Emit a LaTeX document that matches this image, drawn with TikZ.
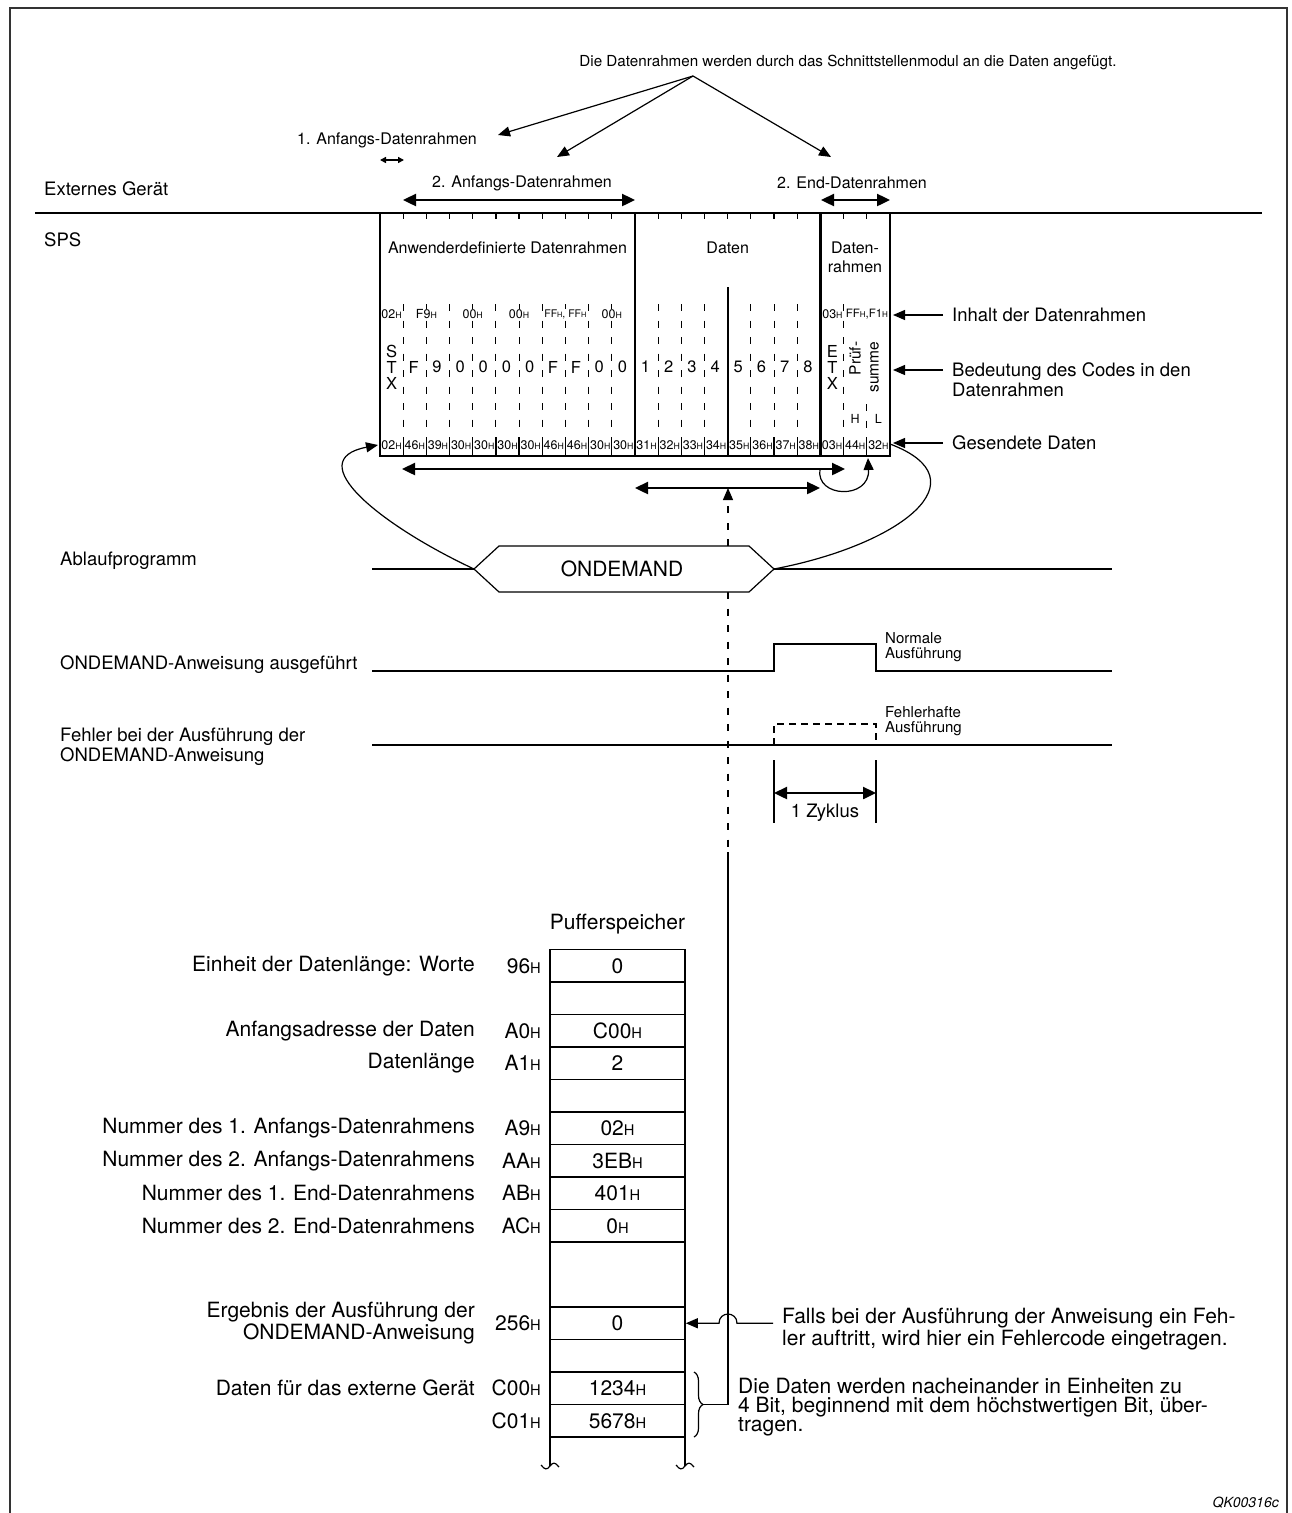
\documentclass[tikz,border=0pt]{standalone}
\usepackage{fontspec}
\setmainfont{TeX Gyre Heros}
\usetikzlibrary{arrows.meta,decorations.pathreplacing}

% hex value with the small H suffix
\newcommand{\hx}[1]{#1\scalebox{0.7}{H}}

\begin{document}
\begin{tikzpicture}[x=1pt,y=-1pt,
  every node/.style={inner sep=0pt},
  thinln/.style={line width=1.2pt},
  boldln/.style={line width=2.4pt},
  colsep/.style={line width=1.1pt,dash pattern=on 7pt off 9.5pt},
  tip/.style={-{Triangle[length=12pt,width=10pt]}},
  both/.style={boldln,{Triangle[length=13pt,width=12pt]}-{Triangle[length=13pt,width=12pt]}},
  ftop/.style={font=\fontsize{15.2}{17}\selectfont},
  flbl/.style={font=\fontsize{16}{17}\selectfont},
  fside/.style={font=\fontsize{18.5}{20}\selectfont},
  fcell/.style={font=\fontsize{16.5}{16}\selectfont},
  fcode/.style={font=\fontsize{12.5}{12}\selectfont},
  fsmall/.style={font=\fontsize{15}{15}\selectfont},
  fmem/.style={font=\fontsize{21}{22.5}\selectfont},
  cell/.style={draw,line width=1.6pt,minimum width=135pt,minimum height=32.5pt,fmem},
]
\useasboundingbox (0,0) rectangle (1292,1513);

% outer frame, open at the bottom
\draw[line width=1.3pt,black!80] (10,1513) -- (10,8) -- (1287,8) -- (1287,1513);

% --- frame layout on the line ---
\node[ftop] (note) at (848,62) {Die Datenrahmen werden durch das Schnittstellenmodul an die Daten angefügt.};
\coordinate (apex) at (693,76);
\node[flbl] (a1) at (387,140) {1. Anfangs-Datenrahmen};
\node[flbl] (a2) at (522,183) {2. Anfangs-Datenrahmen};
\node[flbl] (e2) at (852,183) {2. End-Datenrahmen};
\coordinate (a1tip) at (498,135);
\coordinate (a2tip) at (557,157);
\coordinate (e2tip) at (831,157);
\draw[thinln,tip] (apex) -- (a1tip);
\draw[thinln,tip] (apex) -- (a2tip);
\draw[thinln,tip] (apex) -- (e2tip);
\draw[line width=1.5pt,{Triangle[length=6pt,width=6pt]}-{Triangle[length=6pt,width=6pt]}] (380,160) -- (404,160);
\draw[both] (403,200) -- (635,200);
\draw[both] (821,200) -- (890,200);

\draw[boldln] (35,213) -- (1262,213);
\node[fside,anchor=west] (ext) at (44,189) {Externes Gerät};
\node[fside,anchor=west] (sps) at (44,240) {SPS};

% frame box
\draw[boldln] (380,213) -- (380,456) -- (890,456) -- (890,213);
\draw[boldln] (635,213) -- (635,456);
\draw[boldln] (820.4,213) -- (820.4,456);
\draw[line width=2pt] (727.7,287) -- (727.7,456);
\node[font=\fontsize{16}{16}\selectfont] (udef) at (507.5,248) {Anwenderdefinierte Datenrahmen};
\node[font=\fontsize{16}{16}\selectfont] (dat) at (727.7,248) {Daten};
\node[align=center,font=\fontsize{16}{19}\selectfont] (endr) at (855,257) {Daten-\\rahmen};

% column ticks and separators
\foreach \k in {1,...,21}{
  \pgfmathsetmacro\xk{380+\k*23.18}
  \ifnum\k=11\relax\else\ifnum\k=19\relax\else
    \draw[thinln] (\xk,213) -- (\xk,219);
    \draw[thinln] (\xk,437) -- (\xk,456);
  \fi\fi
}
\foreach \k in {1,...,10,12,13,14,16,17,18,20}{
  \pgfmathsetmacro\xk{380+\k*23.18}
  \draw[colsep] (\xk,304) -- (\xk,436);
}
\draw[colsep] ({380+21*23.18},404) -- ({380+21*23.18},436);

% frame contents
\node[fcode,fill=white] (t0) at (391.6,314) {\hx{02}};
\node[fcode,fill=white] (t1) at (426.4,314) {\hx{F9}};
\node[fcode,fill=white] (t2) at (472.7,314) {\hx{00}};
\node[fcode,fill=white] (t3) at (519.1,314) {\hx{00}};
\node[fcode,fill=white,font=\fontsize{10.5}{10}\selectfont] (t4) at (565.4,314) {\hx{FF}, \hx{FF}};
\node[fcode,fill=white] (t5) at (611.8,314) {\hx{00}};
\node[fcode,fill=white] (t6) at (832.4,314) {\hx{03}};
\node[fcode,fill=white,font=\fontsize{11.5}{10}\selectfont] (t7) at (866.9,314) {\hx{FF},\hx{F1}};

\node[fcell,align=center] (stx) at (391.6,367) {S\\T\\X};
\foreach \v [count=\i from 1] in {F,9,0,0,0,0,F,F,0,0,1,2,3,4,5,6,7,8}
  \node[fcell] (m\i) at ({380+(\i+0.5)*23.18-1},367) {\v};
\node[fcell,align=center] (etx) at (832.4,367) {E\\T\\X};
\node[rotate=90,align=right,font=\fontsize{15.5}{18}\selectfont,fill=white] (chk) at (864,367) {Prüf-\\summe};
\node[fcode] (hi) at (855.2,419) {H};
\node[fcode] (lo) at (878.4,419) {L};

\foreach \v [count=\i from 0] in {02,46,39,30,30,30,30,46,46,30,30,31,32,33,34,35,36,37,38,03,44,32}
  \node[fcode] (s\i) at ({380+(\i+0.5)*23.18},445) {\hx{\v}};

% legend on the right
\node[fside,anchor=west] (inh) at (952,315) {Inhalt der Datenrahmen};
\node[fside,anchor=west,align=left] (bed) at (952,380) {Bedeutung des Codes in den\\Datenrahmen};
\node[fside,anchor=west] (ges) at (952,443) {Gesendete Daten};
\coordinate (r1) at (893,315);
\coordinate (r2) at (893,370);
\coordinate (r3) at (893,443);
\draw[thinln,tip] ([xshift=-9pt]inh.west) -- (r1);
\draw[thinln,tip] (943,370) -- (r2);
\draw[thinln,tip] ([xshift=-9pt]ges.west) -- (r3);

% transmitted ranges
\draw[both] (402,469) -- (845,469);
\draw[both] (635,488) -- (820,488);
\draw[thinln,tip] (820,469) .. controls (815,498) and (870,500) .. (868,458);

% --- timing ---
\coordinate (hexL) at (474,569);
\coordinate (hexR) at (774,569);
\coordinate (dn) at (728,488);
\coordinate (bt) at (728,1404);
\draw[colsep,line width=1.2pt,tip] (728,546) -- (dn);
\draw[colsep,line width=1.2pt] (728,592) -- (728,852);
\draw[thinln] (728,852) -- (bt);

\node[fside,anchor=west] (abl) at (60,561) {Ablaufprogramm};
\draw[thinln] (372,569) -- (hexL);
\draw[thinln] (hexR) -- (1112,569);
\draw[thinln,fill=white] (hexL) -- (499,546) -- (749,546) -- (hexR) -- (749,592) -- (499,592) -- cycle;
\node[fmem] (od) at (622,569) {ONDEMAND};
\draw[thinln,tip] (hexL) .. controls (380,525) and (300,460) .. (378,445);
\draw[thinln] (hexR) .. controls (900,545) and (985,480) .. (890,444);

\node[fside,anchor=west] (exe) at (60,665) {ONDEMAND-Anweisung ausgeführt};
\draw[thinln] (372,671) -- (774,671) -- (774,644) -- (876,644) -- (876,671) -- (1112,671);
\node[fsmall,anchor=west,align=left] (ok) at (885,647) {Normale\\Ausführung};

\node[fside,anchor=west,align=left] (err) at (60,747) {Fehler bei der Ausführung der\\ONDEMAND-Anweisung};
\draw[thinln] (372,745) -- (1112,745);
\draw[thinln,dash pattern=on 7pt off 5pt] (774,745) -- (774,724) -- (876,724) -- (876,745);
\node[fsmall,anchor=west,align=left] (nok) at (885,721) {Fehlerhafte\\Ausführung};

\draw[thinln] (774,760) -- (774,823);
\draw[thinln] (876,760) -- (876,823);
\draw[both] (774,793) -- (876,793);
\node[fside] (cyc) at (825,813) {1 Zyklus};

% --- buffer memory ---
\node[fmem] (puf) at (617.5,924) {Pufferspeicher};
\foreach \k/\adr/\val/\txt in {
  0/\hx{96}/0/{Einheit der Datenlänge: Worte},
  2/\hx{A0}/\hx{C00}/{Anfangsadresse der Daten},
  3/\hx{A1}/2/{Datenlänge},
  5/\hx{A9}/\hx{02}/{Nummer des 1. Anfangs-Datenrahmens},
  6/\hx{AA}/\hx{3EB}/{Nummer des 2. Anfangs-Datenrahmens},
  7/\hx{AB}/\hx{401}/{Nummer des 1. End-Datenrahmens},
  8/\hx{AC}/\hx{0}/{Nummer des 2. End-Datenrahmens},
  11/\hx{256}/0/{Ergebnis der Ausführung der\\ONDEMAND-Anweisung},
  13/\hx{C00}/\hx{1234}/{Daten für das externe Gerät},
  14/\hx{C01}/\hx{5678}/{}}{
  \node[cell] (w\k) at (617.5,{949.5+(\k+0.5)*32.5}) {\val};
  \node[fmem,anchor=east] (adr\k) at (541,{949.5+(\k+0.5)*32.5}) {\adr};
  \node[fmem,anchor=east,align=right] (txt\k) at (475,{949.5+(\k+0.5)*32.5}) {\txt};
}
\foreach \k in {1,4,12}
  \node[cell] (w\k) at (617.5,{949.5+(\k+0.5)*32.5}) {};
\node[cell,minimum height=65pt] (w9) at (617.5,1274.5) {};
% open end of the memory
\foreach \x in {550,685}{
  \draw[thinln] (\x,1437) -- (\x,1466);
  \draw[thinln] (\x-9,1465) .. controls (\x-5,1470) and (\x-3,1470) .. (\x,1466)
                .. controls (\x+3,1462) and (\x+5,1462) .. (\x+9,1467);
}

\node[fmem,anchor=west,align=left] (falls) at (782,1329) {Falls bei der Ausführung der Anweisung ein Feh-\\ler auftritt, wird hier ein Fehlercode eingetragen.};
\coordinate (fl) at (773,1323.25);
\draw[thinln,tip] (fl) -- (737,1323.25) .. controls (737,1311) and (719,1311) .. (719,1323.25) -- (w11.east);

\draw[thinln,decorate,decoration={brace,amplitude=9pt}] (694,1372) -- (694,1437);
\coordinate (brt) at (703,1404.5);
\draw[thinln] (bt) |- (brt);
\node[font=\fontsize{21}{19}\selectfont,anchor=west,align=left] (seq) at (738,1407) {Die Daten werden nacheinander in Einheiten zu\\4 Bit, beginnend mit dem höchstwertigen Bit, über-\\tragen.};

\node[font=\fontsize{14}{14}\selectfont\itshape,anchor=east] (id) at (1279,1503) {QK00316c};
\end{tikzpicture}
\end{document}
